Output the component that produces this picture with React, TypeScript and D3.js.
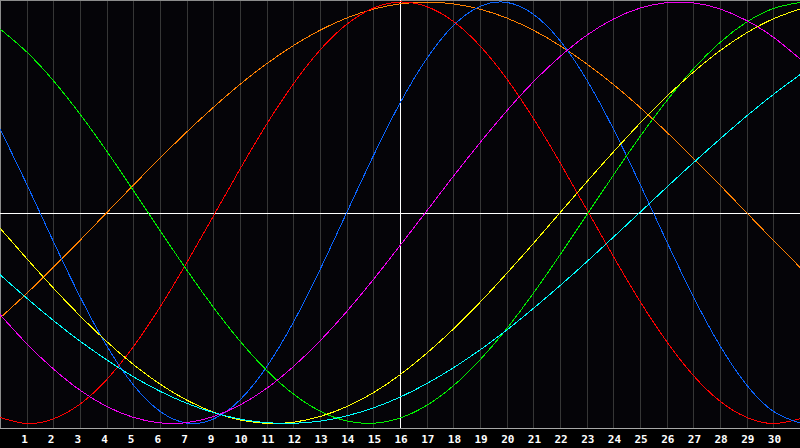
import * as d3 from 'd3';

const W = 800;
const H = 448;

// grid index 0..30 across the plot
const days = d3.range(0, 31);
// labels on grid lines 1..29 (the chart skips 8)
const dayLabels = [
  '1', '2', '3', '4', '5', '6', '7', '9', '10', '11', '12', '13', '14', '15', '16',
  '17', '18', '19', '20', '21', '22', '23', '24', '25', '26', '27', '28', '29', '30',
];
const todayLabel = '16';

// values, -1..1
const physical = [
  0.398, 0.136, -0.136, -0.398, -0.631, -0.817, -0.942, -0.998, -0.979, -0.888, -0.731, -0.52, -0.27,
  0.0, 0.27, 0.52, 0.731, 0.888, 0.979, 0.998, 0.942, 0.817, 0.631, 0.398, 0.136, -0.136, -0.398,
  -0.631, -0.817, -0.942, -0.998,
];
const emotional = [
  -0.971, -1.0, -0.978, -0.908, -0.792, -0.636, -0.448, -0.238, -0.016, 0.207, 0.42, 0.611, 0.772,
  0.894, 0.971, 1.0, 0.978, 0.908, 0.792, 0.636, 0.448, 0.238, 0.016, -0.207, -0.42, -0.611, -0.772,
  -0.894, -0.971, -1.0, -0.978,
];
const intellectual = [
  0.872, 0.763, 0.627, 0.468, 0.293, 0.106, -0.084, -0.271, -0.448, -0.609, -0.748, -0.86, -0.941,
  -0.988, -0.999, -0.974, -0.914, -0.821, -0.698, -0.55, -0.382, -0.2, -0.011, 0.178, 0.361, 0.531,
  0.682, 0.808, 0.905, 0.969, 0.998,
];
const intuitive = [
  -0.483, -0.621, -0.741, -0.842, -0.919, -0.971, -0.997, -0.996, -0.967, -0.912, -0.833, -0.73,
  -0.608, -0.469, -0.317, -0.156, 0.008, 0.173, 0.332, 0.483, 0.621, 0.741, 0.842, 0.919, 0.971,
  0.997, 0.996, 0.967, 0.912, 0.833, 0.73,
];
const aesthetic = [
  -0.073, -0.217, -0.357, -0.489, -0.611, -0.72, -0.813, -0.889, -0.946, -0.983, -0.999, -0.994,
  -0.967, -0.92, -0.854, -0.769, -0.667, -0.552, -0.425, -0.288, -0.146, 0.0, 0.146, 0.288, 0.425,
  0.552, 0.667, 0.769, 0.854, 0.92, 0.967,
];
const awareness = [
  -0.5, -0.383, -0.259, -0.131, 0.0, 0.131, 0.259, 0.383, 0.5, 0.609, 0.707, 0.793, 0.866, 0.924,
  0.966, 0.991, 1.0, 0.991, 0.966, 0.924, 0.866, 0.793, 0.707, 0.609, 0.5, 0.383, 0.259, 0.131, 0.0,
  -0.131, -0.259,
];
const spiritual = [
  -0.294, -0.405, -0.511, -0.609, -0.698, -0.778, -0.847, -0.904, -0.948, -0.979, -0.996, -0.999,
  -0.989, -0.964, -0.926, -0.875, -0.811, -0.736, -0.651, -0.557, -0.454, -0.346, -0.233, -0.116,
  0.002, 0.121, 0.237, 0.35, 0.459, 0.561, 0.655,
];

const series = [
  { name: 'awareness', values: awareness, color: '#ff8000' },
  { name: 'emotional', values: emotional, color: '#ff0000' },
  { name: 'physical', values: physical, color: '#0a64ff' },
  { name: 'intellectual', values: intellectual, color: '#00f000' },
  { name: 'intuitive', values: intuitive, color: '#f000f0' },
  { name: 'aesthetic', values: aesthetic, color: '#ffff00' },
  { name: 'spiritual', values: spiritual, color: '#00ffff' },
];

export default function App() {
  const plotBottom = 428;
  const x = d3.scaleLinear().domain([0, 30]).range([0, W]);
  const y = d3.scaleLinear().domain([-1, 1]).range([423.5, 2]);
  const px = (v: number) => Math.round(v) + 0.5;
  const todayX = x(dayLabels.indexOf(todayLabel) + 1);

  const line = (vals: number[]) =>
    d3
      .line<number>()
      .x((_, i) => x(days[i]))
      .y((d) => y(d))
      .curve(d3.curveNatural)(vals) ?? '';

  return (
    <div style={{ position: 'absolute', left: 0, top: 0 }}>
      <svg width={W} height={H} style={{ display: 'block', background: '#000' }}>
        <rect x={0} y={0} width={W} height={plotBottom} fill="#050408" />

        {/* day grid */}
        {dayLabels.map((_, i) => (
          <line
            key={i}
            x1={px(x(i + 1))}
            x2={px(x(i + 1))}
            y1={0}
            y2={plotBottom}
            stroke="#363636"
            strokeWidth={1}
          />
        ))}

        {/* frame */}
        <line x1={0} x2={W} y1={0.5} y2={0.5} stroke="#8c8c8c" />
        <line x1={0.5} x2={0.5} y1={0} y2={plotBottom} stroke="#8c8c8c" />
        <line x1={0} x2={W} y1={plotBottom + 0.5} y2={plotBottom + 0.5} stroke="#a8a8a8" />

        {/* zero line and today marker */}
        <line x1={0} x2={W} y1={px(y(0))} y2={px(y(0))} stroke="#ffffff" />
        <line x1={px(todayX)} x2={px(todayX)} y1={0} y2={plotBottom} stroke="#ffffff" />

        {series.map((s) => (
          <path
            key={s.name}
            d={line(s.values)}
            fill="none"
            stroke={s.color}
            strokeWidth={1}
            shapeRendering="crispEdges"
          />
        ))}

        {dayLabels.map((t, i) => (
          <text
            key={t}
            x={x(i + 1) - 5.5}
            y={443}
            fill="#ffffff"
            fontFamily="'DejaVu Sans Mono', monospace"
            fontWeight="bold"
            fontSize={11}
          >
            {t}
          </text>
        ))}
      </svg>
    </div>
  );
}
